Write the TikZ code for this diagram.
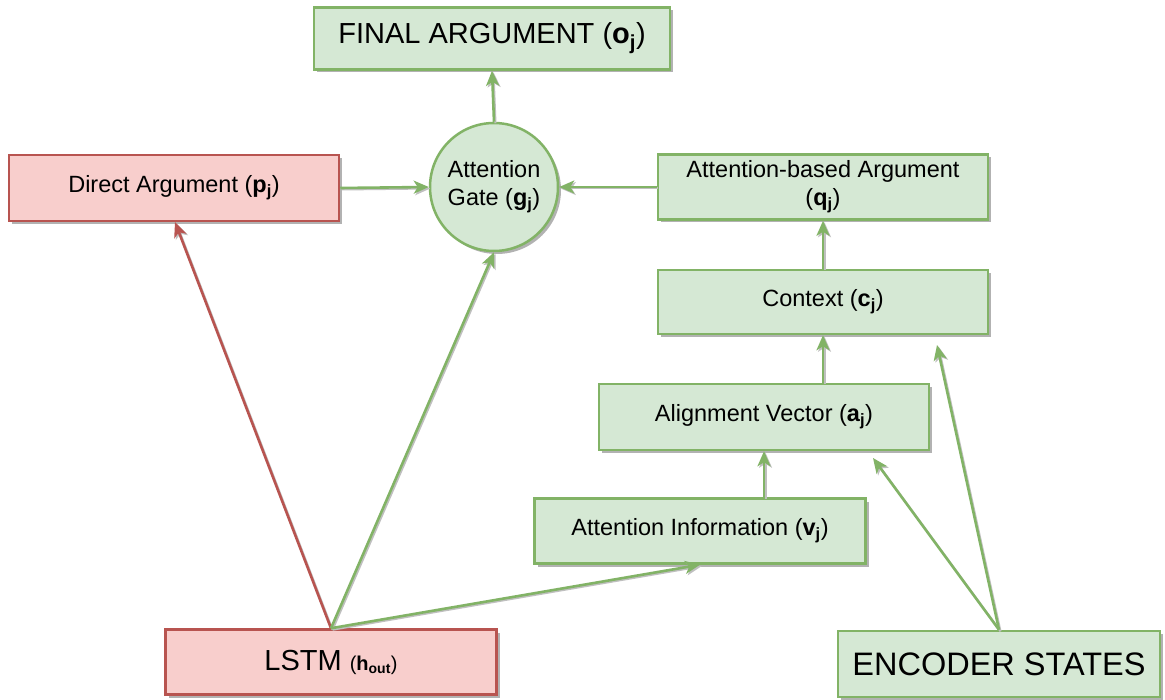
\documentclass[tikz,border=0pt]{standalone}
\usepackage{fontspec}
\setmainfont{Liberation Sans}
\usetikzlibrary{arrows.meta,shadows}
\definecolor{gfill}{HTML}{D5E8D4}
\definecolor{gline}{HTML}{82B366}
\definecolor{rfill}{HTML}{F8CECC}
\definecolor{rline}{HTML}{B85450}
\newcommand{\sbj}[1]{(\textbf{#1}\textsubscript{\textbf{j}})}
\begin{document}
\begin{tikzpicture}[x=1pt,y=-1pt,
  boxbase/.style={rectangle, inner sep=0pt, line width=2.5pt, align=center,
    font=\fontsize{23.5}{28}\selectfont,
    drop shadow={shadow xshift=3pt, shadow yshift=-3pt, opacity=0.3, fill=black}},
  gbox/.style={boxbase, draw=gline, fill=gfill},
  rbox/.style={boxbase, draw=rline, fill=rfill},
  arr/.style={line width=2.6pt, -{Stealth[length=15pt,width=13pt,inset=4pt]},
    preaction={draw=black!25, line width=2pt, transform canvas={shift={(1.5pt,-1.5pt)}}}},
  garrow/.style={arr, draw=gline},
  rarrow/.style={arr, draw=rline}]
\useasboundingbox (0,0) rectangle (1165,700);
\fill[white] (0,0) rectangle (1165,700);

\node[gbox, minimum width=356pt, minimum height=62pt, font=\fontsize{29}{34}\selectfont] (fin) at (492,38.5) {FINAL ARGUMENT \sbj{o}};
\node[rbox, minimum width=330pt, minimum height=66pt] (dir) at (174,188) {Direct Argument \sbj{p}};
\node[gbox, circle, minimum size=128pt] (gate) at (494,187) {Attention\\Gate \sbj{g}};
\node[gbox, minimum width=330pt, minimum height=65pt] (abs) at (823,187) {Attention-based Argument\\\sbj{q}};
\node[gbox, minimum width=330pt, minimum height=64pt] (ctx) at (823,302) {Context \sbj{c}};
\node[gbox, minimum width=330pt, minimum height=66pt] (aln) at (764,417) {Alignment Vector \sbj{a}};
\node[gbox, minimum width=331pt, minimum height=65pt] (inf) at (700,531) {Attention Information \sbj{v}};
\node[rbox, minimum width=331pt, minimum height=65pt, font=\fontsize{29}{34}\selectfont] (lstm) at (331,662) {LSTM {\fontsize{20}{24}\selectfont(\textbf{h}\textsubscript{\textbf{out}})}};
\node[gbox, minimum width=322pt, minimum height=66pt, font=\fontsize{32.5}{38}\selectfont] (enc) at (999,664) {ENCODER STATES};

\coordinate (dirtip) at (175,222);
\coordinate (alntip) at (873,458);
\coordinate (ctxtip) at (937,345);

\draw[garrow] (gate.north) -- (fin.south);
\draw[garrow] (dir.east) -- (gate.west);
\draw[garrow] (abs.west) -- (gate.east);
\draw[garrow] (ctx.north) -- (abs.south);
\draw[garrow] (aln.north -| ctx) -- (ctx.south);
\draw[garrow] (inf.north -| aln) -- (aln.south);
\draw[rarrow] (lstm.north) -- (dirtip);
\draw[garrow] (lstm.north) -- (gate.south);
\draw[garrow] (lstm.north) -- (inf.south);
\draw[garrow] (enc.north) -- (alntip);
\draw[garrow] (enc.north) -- (ctxtip);
\end{tikzpicture}
\end{document}
